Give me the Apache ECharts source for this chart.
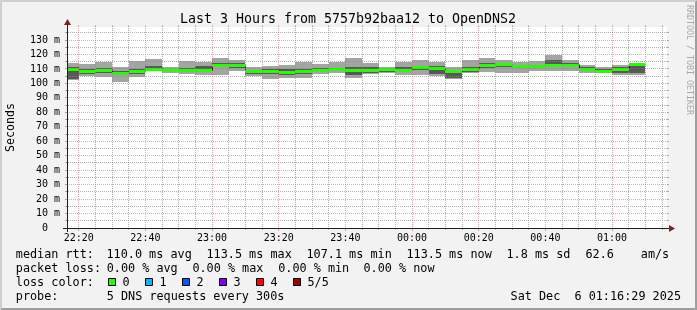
<!DOCTYPE html>
<html>
<head>
<meta charset="utf-8">
<script src="https://cdn.jsdelivr.net/npm/echarts@6/dist/echarts.min.js"></script>
<style>html,body{margin:0;padding:0;background:#f2f2f2}#c{width:697px;height:310px}</style>
</head>
<body>
<div id="c"></div>
<script>
// ---------------- DATA ----------------
const graphStart = '22:16:29';
const graphEnd = '01:16:29';
const stepMinutes = 5;
const stepEnds = ['22:20','22:25','22:30','22:35','22:40','22:45','22:50','22:55','23:00','23:05','23:10','23:15','23:20','23:25','23:30','23:35','23:40','23:45','23:50','23:55','00:00','00:05','00:10','00:15','00:20','00:25','00:30','00:35','00:40','00:45','00:50','00:55','01:00','01:05','01:10'];
const pingMin = [102.6,105.1,104.2,101.2,104.7,108.6,107.0,106.5,105.8,106.0,108.5,104.8,103.3,103.6,104.0,106.5,107.0,103.5,106.5,107.0,105.5,106.0,104.8,103.3,107.0,107.7,107.5,107.2,108.5,108.5,108.3,107.0,107.8,105.5,106.0];
const ping2   = [103.2,106.4,107.3,105.5,106.6,109.4,108.5,109.0,108.0,111.0,110.5,106.5,106.3,105.5,106.5,107.8,109.0,106.0,107.5,108.0,108.0,109.5,106.5,103.8,108.0,110.5,111.0,110.5,110.5,111.5,111.0,108.5,108.2,107.5,107.0];
const median  = [109.8,108.8,109.3,107.1,108.5,110.3,109.5,109.5,109.0,112.6,112.4,108.5,108.7,107.7,108.4,109.6,110.0,109.5,109.4,109.7,109.4,111.1,110.5,108.5,110.2,112.5,113.2,111.9,111.8,112.8,112.8,110.3,108.6,110.0,113.5];
const ping4   = [111.5,109.9,110.5,108.5,110.2,111.8,110.3,110.8,111.8,114.3,113.8,109.6,109.8,109.8,110.0,110.6,110.8,111.0,111.5,110.5,111.0,112.3,112.0,108.9,111.0,114.0,114.2,112.7,112.8,116.5,114.0,111.0,109.8,111.0,113.8];
const pingMax = [114.4,113.1,114.8,111.6,115.5,116.8,111.3,115.3,115.0,117.8,116.2,111.0,111.8,113.0,115.0,113.5,115.0,117.8,114.0,111.5,115.0,116.5,115.0,111.0,116.2,117.8,116.5,115.0,115.5,119.8,116.5,113.0,111.6,112.5,114.2];
const packetLoss = [0,0,0,0,0,0,0,0,0,0,0,0,0,0,0,0,0,0,0,0,0,0,0,0,0,0,0,0,0,0,0,0,0,0,0];

const xTickLabels = ['22:20','22:40','23:00','23:20','23:40','00:00','00:20','00:40','01:00'];
const xMinorTimes = ['22:25','22:30','22:35','22:45','22:50','22:55','23:05','23:10','23:15','23:25','23:30','23:35','23:45','23:50','23:55','00:05','00:10','00:15','00:25','00:30','00:35','00:45','00:50','00:55','01:05','01:10','01:15'];
const yTickValues = [0,10,20,30,40,50,60,70,80,90,100,110,120,130];
const yTickLabels = ['0  ','10 m','20 m','30 m','40 m','50 m','60 m','70 m','80 m','90 m','100 m','110 m','120 m','130 m'];
const yMinorValues = [5,15,25,35,45,55,65,75,85,95,105,115,125,135];
const yMax = 139;

const titleText = 'Last 3 Hours from 5757b92baa12 to OpenDNS2';
const unitText = 'Seconds';
const watermarkText = 'RRDTOOL / TOBI OETIKER';
const rttLegend = ['median rtt:', '110.0 ms avg', '113.5 ms max', '107.1 ms min', '113.5 ms now', '1.8 ms sd', '62.6', 'am/s'];
const lossLegend = ['packet loss:', '0.00 % avg', '0.00 % max', '0.00 % min', '0.00 % now'];
const lossColorTitle = 'loss color:';
const lossLabels = ['0','1','2','3','4','5/5'];
const lossColors = ['#26ff00','#00b8ff','#0059ff','#7e00ff','#ff0000','#a10000'];
const probeLegend = ['probe:', '5 DNS requests every 300s'];
const stampText = 'Sat Dec  6 01:16:29 2025';

// ---------------- HELPERS ----------------
function toMin(s) {
  const p = s.split(':').map(Number);
  const h = p[0] < 12 ? p[0] + 24 : p[0];
  return (h - 22) * 60 + p[1] + (p[2] || 0) / 60;
}
const X_MIN = toMin(graphStart), X_MAX = toMin(graphEnd);
const MONO = '"DejaVu Sans Mono", monospace';

const rows = stepEnds.map((s, i) => [toMin(s), pingMin[i], ping2[i], median[i], ping4[i], pingMax[i]]);
const xTickValues = xTickLabels.map(toMin);

function span(api) {
  const t1 = api.value(0);
  const t0 = Math.max(t1 - stepMinutes, X_MIN);
  return [Math.round(api.coord([t0, 0])[0]), Math.round(api.coord([t1, 0])[0])];
}
function py(api, v) { return api.coord([X_MIN, v])[1]; }

function renderSmoke(params, api) {
  const [xa, xb] = span(api);
  const yLo = Math.round(py(api, api.value(1)));
  const y2 = Math.round(py(api, api.value(2)));
  const y4 = Math.round(py(api, api.value(4)));
  const yHi = Math.round(py(api, api.value(5)));
  return { type: 'group', children: [
    { type: 'rect', shape: { x: xa, y: yHi, width: xb - xa, height: yLo - yHi }, style: { fill: '#a4a4a4' } },
    { type: 'rect', shape: { x: xa, y: y4, width: xb - xa, height: y2 - y4 }, style: { fill: '#585858' } }
  ]};
}
function renderMedLine(params, api) {
  const i = params.dataIndex;
  const [xa, xb] = span(api);
  const ym = Math.floor(py(api, api.value(3))) + 0.5;
  const pts = [];
  if (i > 0) pts.push([xa + 0.5, Math.floor(py(api, median[i - 1])) + 0.5]);
  pts.push([xa + 0.5, ym]);
  pts.push([xb, ym]);
  return { type: 'polyline', shape: { points: pts }, style: { stroke: '#202020', lineWidth: 1, fill: null } };
}
function renderBand(params, api) {
  const i = params.dataIndex;
  const [xa, xb] = span(api);
  const ym = Math.round(py(api, api.value(3)));
  return { type: 'rect', shape: { x: xa, y: ym - 1, width: xb - xa, height: 3 }, style: { fill: lossColors[packetLoss[i]] } };
}

const chart = echarts.init(document.getElementById('c'), null, { renderer: 'canvas', width: 697, height: 310 });
chart.setOption({
  backgroundColor: '#f2f2f2',
  animation: false,
  grid: { left: 67, top: 27, width: 600, height: 201, show: true, backgroundColor: '#ffffff', borderWidth: 0 },
  xAxis: {
    type: 'value', min: X_MIN, max: X_MAX,
    axisLine: { show: false }, axisTick: { show: false }, splitLine: { show: false },
    axisLabel: {
      customValues: xTickValues,
      formatter: v => { const k = xTickValues.findIndex(t => Math.abs(t - v) < 1e-6); return k >= 0 ? xTickLabels[k] : ''; },
      fontFamily: MONO, fontSize: 10, color: '#000', margin: 5
    }
  },
  yAxis: {
    type: 'value', min: 0, max: yMax,
    axisLine: { show: false }, axisTick: { show: false }, splitLine: { show: false },
    axisLabel: {
      customValues: yTickValues,
      formatter: v => { const k = yTickValues.indexOf(v); return k >= 0 ? yTickLabels[k] : ''; },
      fontFamily: MONO, fontSize: 10, color: '#000', margin: 7
    }
  },
  series: [
    { type: 'custom', name: 'smoke', renderItem: renderSmoke, data: rows, z: 2, silent: true },
    { type: 'custom', name: 'median line', renderItem: renderMedLine, data: rows, z: 3, silent: true },
    { type: 'custom', name: 'median', renderItem: renderBand, data: rows, z: 4, silent: true }
  ]
});

// ---------------- DECORATIONS (grid, axes, texts) ----------------
const g = [];
const W = 697, H = 310;
g.push({ type: 'polygon', shape: { points: [[0, H], [2, H - 2], [2, 2], [W - 2, 2], [W, 0], [0, 0]] }, style: { fill: '#cfcfcf' }, z: 1, silent: true });
g.push({ type: 'polygon', shape: { points: [[2, H - 2], [W - 2, H - 2], [W - 2, 2], [W, 0], [W, H], [0, H]] }, style: { fill: '#9e9e9e' }, z: 1, silent: true });

const toPx = (x, y) => chart.convertToPixel({ gridIndex: 0 }, [x, y]);
const X0 = Math.floor(toPx(X_MIN, 0)[0]);
const X1 = Math.floor(toPx(X_MAX, 0)[0]);
const Y0 = Math.floor(toPx(X_MIN, 0)[1]);
const Y1 = Math.floor(toPx(X_MIN, yMax)[1]);
const GRID_C = 'rgba(143,143,143,0.7)';
const MGRID_C = 'rgba(222,79,79,0.5)';
function ln(x1, y1, x2, y2, color, dash) {
  g.push({ type: 'line', shape: { x1, y1, x2, y2 }, style: { stroke: color, lineWidth: 1, lineDash: dash || null }, z: 50, silent: true });
}
yMinorValues.forEach(v => {
  const y = Math.floor(toPx(X_MIN, v)[1]) + 0.5;
  ln(X0 - 2, y, X0, y, GRID_C); ln(X1, y, X1 + 2, y, GRID_C);
  ln(X0 - 1, y, X1 + 1, y, GRID_C, [1, 1]);
});
yTickValues.filter(v => v > 0).forEach(v => {
  const y = Math.floor(toPx(X_MIN, v)[1]) + 0.5;
  ln(X0 - 2, y, X0, y, MGRID_C); ln(X1, y, X1 + 2, y, MGRID_C);
  ln(X0 - 2, y, X1 + 2, y, MGRID_C, [1, 1]);
});
xMinorTimes.map(toMin).forEach(t => {
  const x = Math.floor(toPx(t, 0)[0]) + 0.5;
  ln(x, Y0, x, Y0 + 2, GRID_C); ln(x, Y1 - 2, x, Y1, GRID_C);
  ln(x, Y0 - 1, x, Y1 + 1, GRID_C, [1, 1]);
});
xTickValues.forEach(t => {
  const x = Math.floor(toPx(t, 0)[0]) + 0.5;
  ln(x, Y0, x, Y0 + 3, MGRID_C); ln(x, Y1 - 2, x, Y1, MGRID_C);
  ln(x, Y0 - 1, x, Y1 + 1, MGRID_C, [1, 1]);
});
const AX = '#1f1f1f', ARROW = '#801f1f';
g.push({ type: 'line', shape: { x1: X0 - 4, y1: Y0 + 0.5, x2: X1 + 4, y2: Y0 + 0.5 }, style: { stroke: AX, lineWidth: 1 }, z: 60, silent: true });
g.push({ type: 'line', shape: { x1: X0 + 0.5, y1: Y0 + 4, x2: X0 + 0.5, y2: Y1 - 4 }, style: { stroke: AX, lineWidth: 1 }, z: 60, silent: true });
g.push({ type: 'polygon', shape: { points: [[X1 + 2, Y0 + 0.5 - 3.5], [X1 + 2, Y0 + 0.5 + 3.5], [X1 + 8, Y0 + 0.5]] }, style: { fill: ARROW }, z: 61, silent: true });
g.push({ type: 'polygon', shape: { points: [[X0 + 0.5 - 3.5, Y1 - 2], [X0 + 0.5 + 3.5, Y1 - 2], [X0 + 0.5, Y1 - 8]] }, style: { fill: ARROW }, z: 61, silent: true });

function txt(text, x, y, size, opts) {
  g.push(Object.assign({ type: 'text', x, y, z: 70, silent: true,
    style: Object.assign({ text, fontFamily: MONO, fontSize: size, fill: '#000', align: 'left', verticalAlign: 'middle' }, (opts && opts.style) || {}) },
    opts && opts.el || {}));
}
txt(titleText, 348, 19.8, 13.3, { style: { align: 'center' } });
txt(unitText, 10.5, 127.5, 11.6, { style: { align: 'center' }, el: { rotation: Math.PI / 2 } });
txt(watermarkText, 689, 5, 8.3, { style: { fill: '#a8a8a8' }, el: { rotation: -Math.PI / 2 } });

const LEG = 11.8;
const rttX = [15.8, 106.5, 206.5, 306.5, 406.5, 506.5, 585.5, 640.8];
rttLegend.forEach((s, k) => txt(s, rttX[k], 254.8, LEG));
const lossX = [15.8, 106.7, 192.4, 278.2, 363.5];
lossLegend.forEach((s, k) => txt(s, lossX[k], 268.8, LEG));
txt(lossColorTitle, 15.8, 282.8, LEG);
lossLabels.forEach((s, k) => {
  const bx = 108 + 37 * k;
  g.push({ type: 'rect', shape: { x: bx + 0.5, y: 278.5, width: 7, height: 7 }, style: { fill: lossColors[k], stroke: '#000', lineWidth: 1 }, z: 70, silent: true });
  txt(s, bx + 14.5, 282.8, LEG);
});
txt(probeLegend[0], 15.8, 296.5, LEG);
txt(probeLegend[1], 106.8, 296.5, LEG);
txt(stampText, 681, 296.5, LEG, { style: { align: 'right' } });

chart.setOption({ graphic: { elements: g } });
</script>
</body>
</html>
